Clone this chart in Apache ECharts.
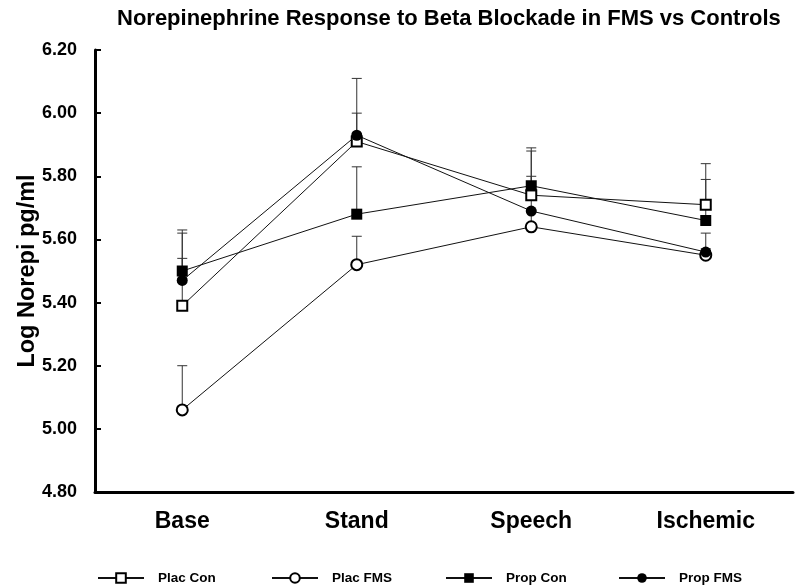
<!DOCTYPE html>
<html>
<head>
<meta charset="utf-8">
<script src="https://cdn.jsdelivr.net/npm/echarts@6/dist/echarts.min.js"></script>
<style>html,body{margin:0;padding:0;background:#fff;}#c{width:800px;height:587px;}</style>
</head>
<body>
<div id="c"></div>
<script>
var categories = ['Base', 'Stand', 'Speech', 'Ischemic'];
var seriesNames = ['Plac Con', 'Plac FMS', 'Prop Con', 'Prop FMS'];
var placCon = [5.39, 5.91, 5.74, 5.71];
var placConUpper = [5.54, 6.00, 5.88, 5.84];
var placFms = [5.06, 5.52, 5.64, 5.55];
var placFmsUpper = [5.20, 5.61, 5.69, 5.57];
var propCon = [5.50, 5.68, 5.77, 5.66];
var propConUpper = [5.63, 5.83, 5.89, 5.79];
var propFms = [5.47, 5.93, 5.69, 5.56];
var propFmsUpper = [5.62, 6.11, 5.80, 5.62];
var yTicks = [4.8, 5.0, 5.2, 5.4, 5.6, 5.8, 6.0, 6.2];

var FONT = '"Liberation Sans", Arial, sans-serif';
var values = [placCon, placFms, propCon, propFms];
var uppers = [placConUpper, placFmsUpper, propConUpper, propFmsUpper];
var symbols = ['emptyRect', 'emptyCircle', 'rect', 'circle'];
var symSizes = [10, 11, 11, 11];
var legendLeft = [92, 266, 440, 613];

var series = [];
var legends = [];
for (var s = 0; s < 4; s++) {
  (function (s) {
    var errData = categories.map(function (c, i) { return [i, values[s][i], uppers[s][i]]; });
    series.push({
      type: 'custom',
      name: seriesNames[s] + ' err',
      data: errData,
      z: 1,
      silent: true,
      renderItem: function (params, api) {
        var x = api.value(0);
        var p0 = api.coord([x, api.value(1)]);
        var p1 = api.coord([x, api.value(2)]);
        var hw = 5;
        var st = { stroke: '#333', lineWidth: 1 };
        return {
          type: 'group',
          children: [
            { type: 'line', shape: { x1: p0[0], y1: p0[1], x2: p1[0], y2: p1[1] }, style: st },
            { type: 'line', shape: { x1: p1[0] - hw, y1: p1[1], x2: p1[0] + hw, y2: p1[1] }, style: st }
          ]
        };
      }
    });
    series.push({
      type: 'line',
      name: seriesNames[s],
      data: values[s],
      z: 3,
      symbol: symbols[s],
      symbolSize: symSizes[s],
      showAllSymbol: true,
      lineStyle: { color: '#111', width: 1 },
      itemStyle: { color: '#000', borderWidth: 1 },
      emphasis: { disabled: true },
      animation: false
    });
    legends.push({
      data: [seriesNames[s]],
      left: legendLeft[s],
      top: 566,
      itemWidth: 46,
      itemHeight: 12,
      selectedMode: false,
      textStyle: { fontFamily: FONT, fontWeight: 'bold', fontSize: 13.5, color: '#000', padding: [0, 0, 0, 9] }
    });
  })(s);
}

var chart = echarts.init(document.getElementById('c'), null, { renderer: 'canvas' });
chart.setOption({
  animation: false,
  backgroundColor: '#fff',
  color: ['#000', '#000', '#000', '#000'],
  title: {
    text: 'Norepinephrine Response to Beta Blockade in FMS vs Controls',
    left: 112,
    top: 3,
    textStyle: { fontFamily: FONT, fontWeight: 'bold', fontSize: 22, color: '#000' }
  },
  legend: legends,
  grid: { left: 95, right: 7, top: 50, bottom: 95, containLabel: false, outerBoundsMode: 'none' },
  xAxis: {
    type: 'category',
    data: categories,
    boundaryGap: true,
    axisLine: { lineStyle: { color: '#000', width: 3 } },
    axisTick: { inside: true, alignWithLabel: true, length: 7, lineStyle: { color: '#000', width: 2 } },
    axisLabel: { margin: 18, fontFamily: FONT, fontWeight: 'bold', fontSize: 23, color: '#000' }
  },
  yAxis: {
    type: 'value',
    min: 4.8,
    max: 6.2,
    interval: 0.2,
    name: 'Log Norepi pg/ml',
    nameLocation: 'middle',
    nameGap: 55,
    nameMoveOverlap: false,
    nameTextStyle: { fontFamily: FONT, fontWeight: 'bold', fontSize: 23.5, color: '#000' },
    axisLine: { show: true, lineStyle: { color: '#000', width: 3 } },
    axisTick: { show: true, inside: true, length: 6, lineStyle: { color: '#000', width: 2 } },
    splitLine: { show: false },
    axisLabel: {
      margin: 18,
      fontFamily: FONT, fontWeight: 'bold', fontSize: 18, color: '#000',
      formatter: function (v) { return v.toFixed(2); }
    }
  },
  series: series
});
</script>
</body>
</html>
